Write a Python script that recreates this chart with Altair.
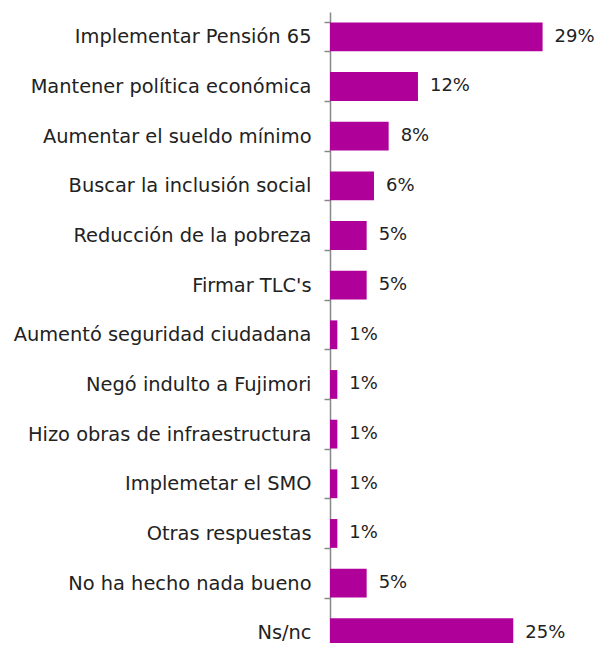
import altair as alt
import pandas as pd

categories = [
    "Implementar Pensión 65",
    "Mantener política económica",
    "Aumentar el sueldo mínimo",
    "Buscar la inclusión social",
    "Reducción de la pobreza",
    "Firmar TLC's",
    "Aumentó seguridad ciudadana",
    "Negó indulto a Fujimori",
    "Hizo obras de infraestructura",
    "Implemetar el SMO",
    "Otras respuestas",
    "No ha hecho nada bueno",
    "Ns/nc",
]
values = [29, 12, 8, 6, 5, 5, 1, 1, 1, 1, 1, 5, 25]
labels = [f"{v}%" for v in values]

df = pd.DataFrame({"cat": categories, "val": values, "lab": labels})

FONT = "DejaVu Sans"
COLOR = "#B0009A"

y_enc = alt.Y(
    "cat:N",
    sort=categories,
    scale=alt.Scale(range=[0, 645.6], paddingInner=0.42, paddingOuter=0.21),
    axis=alt.Axis(
        title=None,
        tickBand="extent",
        tickSize=6,
        tickColor="#888888",
        domainColor="#888888",
        domainWidth=1.5,
        tickWidth=1.5,
        labelPadding=13,
        labelFont=FONT,
        labelFontSize=19.4,
        labelColor="#222222",
        labelLimit=400,
    ),
)
x_enc = alt.X(
    "val:Q",
    scale=alt.Scale(domain=[0, 35.74], range=[0, 262], nice=False),
    axis=None,
)

bars = alt.Chart(df).mark_bar(color=COLOR, cornerRadius=0).encode(y=y_enc, x=x_enc)
text = alt.Chart(df).mark_text(
    align="left", baseline="middle", dx=12, font=FONT, fontSize=18, color="#222222"
).encode(y=alt.Y("cat:N", sort=categories), x="val:Q", text="lab:N")

chart = (
    alt.layer(bars, text)
    .properties(
        width=264,
        height=631,
        autosize=alt.AutoSizeParams(type="none"),
        padding={"left": 322, "top": 4, "right": 0, "bottom": 0},
    )
    .configure_view(stroke=None)
)

chart.save("out.html", embed_options={"renderer": "svg", "actions": False})
